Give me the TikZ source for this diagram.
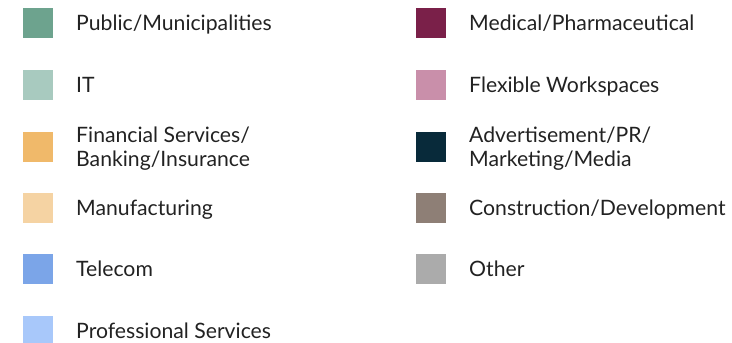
\documentclass[tikz,border=0pt]{standalone}
\usepackage{fontspec}
\setmainfont{Lato}
\definecolor{cPublic}{HTML}{6DA38E}
\definecolor{cIT}{HTML}{A8CABF}
\definecolor{cFin}{HTML}{F0B96A}
\definecolor{cManu}{HTML}{F5D3A3}
\definecolor{cTel}{HTML}{7BA5E8}
\definecolor{cProf}{HTML}{A8C8FA}
\definecolor{cMed}{HTML}{7A2049}
\definecolor{cFlex}{HTML}{C98FAA}
\definecolor{cAdv}{HTML}{082A3A}
\definecolor{cCon}{HTML}{8E7F76}
\definecolor{cOther}{HTML}{ABABAB}
\definecolor{txt}{HTML}{222222}
\begin{document}
\begin{tikzpicture}[x=1pt,y=-1pt,
  swatch/.style={minimum width=30pt,minimum height=30pt,inner sep=0pt,outer sep=0pt,fill=#1,draw=none},
  label/.style={anchor=base west,inner sep=0pt,align=left,text=txt,font=\fontsize{21.2}{24}\selectfont},
  label2/.style={anchor=west,inner sep=0pt,align=left,text=txt,font=\fontsize{21.2}{24}\selectfont}]
\useasboundingbox (0,0) rectangle (732,343);
% left column
\node[swatch=cPublic] (s1) at (38,23) {};
\node[label] (t1) at (76,30.7) {Public/Municipalities};
\node[swatch=cIT] (s2) at (38,84.5) {};
\node[label] (t2) at (76,92.2) {IT};
\node[swatch=cFin] (s3) at (38,146.5) {};
\node[label2] (t3) at (76,148.5) {Financial Services/\\Banking/Insurance};
\node[swatch=cManu] (s4) at (38,207.5) {};
\node[label] (t4) at (76,215.2) {Manufacturing};
\node[swatch=cTel] (s5) at (38,269) {};
\node[label] (t5) at (76,276.7) {Telecom};
\node[swatch=cProf] (s6) at (38,330.5) {};
\node[label] (t6) at (76,338.2) {Professional Services};
% right column
\node[swatch=cMed] (s7) at (431,23) {};
\node[label] (t7) at (469,30.7) {Medical/Pharmaceutical};
\node[swatch=cFlex] (s8) at (431,84.5) {};
\node[label] (t8) at (469,92.2) {Flexible Workspaces};
\node[swatch=cAdv] (s9) at (431,146.5) {};
\node[label2] (t9) at (469,148.5) {Advertisement/PR/\\Marketing/Media};
\node[swatch=cCon] (s10) at (431,207.5) {};
\node[label] (t10) at (469,215.2) {Construction/Development};
\node[swatch=cOther] (s11) at (431,269) {};
\node[label] (t11) at (469,276.7) {Other};
\end{tikzpicture}
\end{document}
